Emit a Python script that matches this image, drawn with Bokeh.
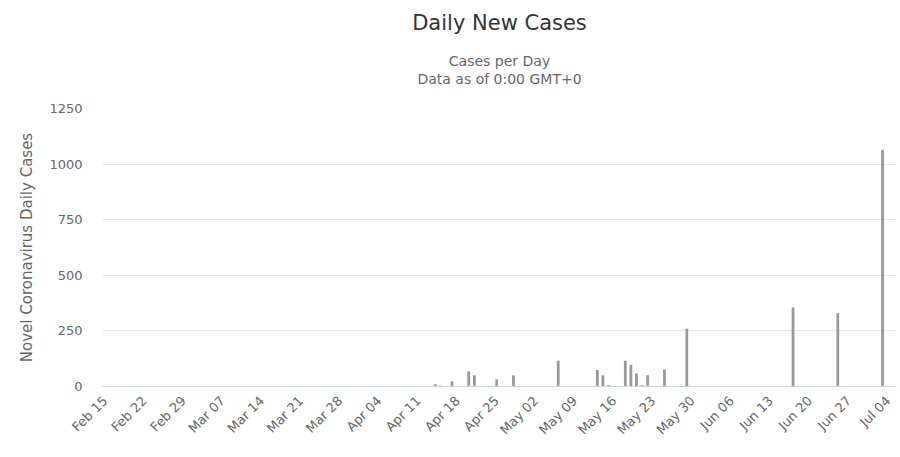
from datetime import date
from math import pi

from bokeh.plotting import figure
from bokeh.models import Range1d, FixedTicker, Title, ColumnDataSource
from bokeh.embed import file_html
from bokeh.resources import INLINE

# ---- data ----
start_date = "2020-02-15"
n_categories = 142  # Feb 15 .. Jul 05

tick_labels = ["Feb 15", "Feb 22", "Feb 29", "Mar 07", "Mar 14", "Mar 21", "Mar 28",
               "Apr 04", "Apr 11", "Apr 18", "Apr 25", "May 02", "May 09", "May 16",
               "May 23", "May 30", "Jun 06", "Jun 13", "Jun 20", "Jun 27", "Jul 04"]

case_dates = ["2020-04-14", "2020-04-15", "2020-04-17", "2020-04-20", "2020-04-21",
              "2020-04-25", "2020-04-28", "2020-05-06", "2020-05-13", "2020-05-14",
              "2020-05-15", "2020-05-18", "2020-05-19", "2020-05-20", "2020-05-21",
              "2020-05-22", "2020-05-25", "2020-05-29", "2020-06-17", "2020-06-25",
              "2020-07-03"]
case_values = [10, 5, 23, 68, 51,
               33, 51, 116, 74, 51,
               6, 116, 98, 58, 6,
               51, 76, 260, 355, 331,
               1065]

title_text = "Daily New Cases"
subtitle_lines = ["Cases per Day", "Data as of 0:00 GMT+0"]
y_axis_title = "Novel Coronavirus Daily Cases"
y_ticks = [0, 250, 500, 750, 1000, 1250]

# ---- derived ----
d0 = date.fromisoformat(start_date)
x_idx = [(date.fromisoformat(d) - d0).days for d in case_dates]
tick_positions = [i * 7 for i in range(len(tick_labels))]

src = ColumnDataSource(data=dict(x=x_idx, top=case_values))

FONT = "DejaVu Sans"

p = figure(width=900, height=457, output_backend="svg", toolbar_location=None,
           title=None,
           x_range=Range1d(-0.5, n_categories - 0.5), y_range=Range1d(0, 1250),
           min_border_left=102, min_border_right=4, min_border_top=108,
           min_border_bottom=71)
p.background_fill_color = "white"
p.border_fill_color = "white"
p.outline_line_color = None

p.vbar(x="x", top="top", width=0.5, source=src, color="#999999", line_color=None)


def spacer(gap):
    return Title(text=" ", text_font_size="1px", standoff=gap)


# titles stack upward from the frame, in the order added
p.add_layout(spacer(19), "above")
p.add_layout(Title(text=subtitle_lines[1], align="center", text_font=FONT,
                   text_font_size="14px", text_color="#666666",
                   text_font_style="normal", standoff=0), "above")
p.add_layout(Title(text=subtitle_lines[0], align="center", text_font=FONT,
                   text_font_size="14px", text_color="#666666",
                   text_font_style="normal", standoff=0), "above")
p.add_layout(spacer(13), "above")
p.add_layout(Title(text=title_text, align="center", text_font=FONT,
                   text_font_size="21px", text_color="#333333",
                   text_font_style="normal", standoff=0), "above")

# x axis
xa = p.xaxis[0]
xa.ticker = FixedTicker(ticks=tick_positions)
xa.major_label_overrides = {pos: lab for pos, lab in zip(tick_positions, tick_labels)}
xa.major_label_orientation = pi / 4
xa.major_label_text_font = FONT
xa.major_label_text_font_size = "13px"
xa.major_label_text_color = "#666666"
xa.major_label_standoff = 6
xa.axis_line_color = "#ccd6eb"
xa.major_tick_line_color = None
xa.minor_tick_line_color = None

# y axis
ya = p.yaxis[0]
ya.ticker = FixedTicker(ticks=y_ticks)
ya.axis_label = y_axis_title
ya.axis_label_text_font = FONT
ya.axis_label_text_font_size = "15px"
ya.axis_label_text_font_style = "normal"
ya.axis_label_text_color = "#666666"
ya.axis_label_standoff = 10
ya.major_label_text_font = FONT
ya.major_label_text_font_size = "13px"
ya.major_label_text_color = "#666666"
ya.major_label_standoff = 14
ya.axis_line_color = None
ya.major_tick_line_color = None
ya.minor_tick_line_color = None

p.xgrid.grid_line_color = None
p.ygrid.grid_line_color = "#e6e6e6"
p.ygrid.ticker = FixedTicker(ticks=y_ticks)

open("out.html", "w").write(file_html(p, INLINE))
